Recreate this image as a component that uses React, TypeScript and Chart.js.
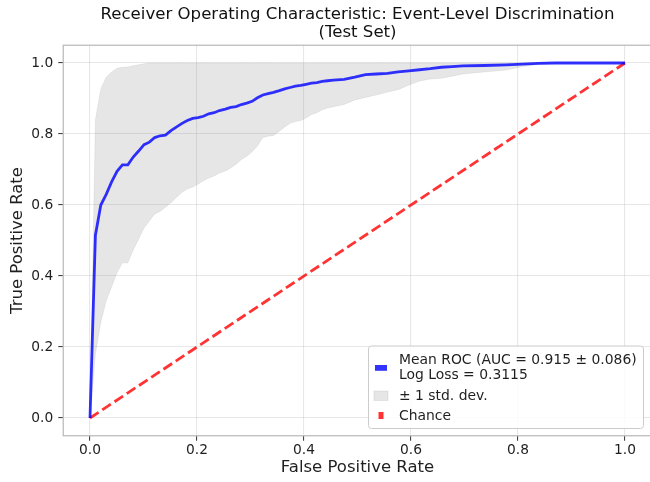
import React, { useEffect, useRef } from "react";
import Chart from "chart.js/auto";

const fpr = [
  0, 0.0101, 0.0202, 0.0303, 0.0404, 0.0505, 0.0606, 0.0707, 0.0808, 0.0909,
  0.101, 0.111, 0.121, 0.131, 0.141, 0.152, 0.162, 0.172, 0.182, 0.192,
  0.202, 0.212, 0.222, 0.232, 0.242, 0.253, 0.263, 0.273, 0.283, 0.293,
  0.303, 0.313, 0.323, 0.333, 0.343, 0.354, 0.364, 0.374, 0.384, 0.394,
  0.404, 0.414, 0.424, 0.434, 0.444, 0.455, 0.475, 0.495, 0.515, 0.535,
  0.556, 0.576, 0.596, 0.616, 0.636, 0.657, 0.677, 0.697, 0.737, 0.778,
  0.808, 0.838, 0.869, 0.899, 1.0,
];

const meanTpr = [
  0, 0.515, 0.6, 0.63, 0.665, 0.695, 0.713, 0.713, 0.735, 0.752,
  0.77, 0.777, 0.79, 0.795, 0.797, 0.81, 0.82, 0.83, 0.838, 0.844,
  0.846, 0.85, 0.857, 0.86, 0.866, 0.87, 0.875, 0.877, 0.883, 0.887,
  0.892, 0.902, 0.91, 0.914, 0.917, 0.922, 0.927, 0.931, 0.935, 0.937,
  0.94, 0.943, 0.945, 0.948, 0.95, 0.952, 0.954, 0.96, 0.967, 0.969,
  0.971, 0.975, 0.978, 0.981, 0.984, 0.988, 0.99, 0.992, 0.993, 0.995,
  0.997, 0.999, 1.0, 1.0, 1.0,
];

const upperTpr = [
  0, 0.84, 0.927, 0.96, 0.975, 0.985, 0.988, 0.989, 0.992, 0.995,
  0.998, 1, 1, 1, 1, 1, 1, 1, 1, 1,
  1, 1, 1, 1, 1, 1, 1, 1, 1, 1,
  1, 1, 1, 1, 1, 1, 1, 1, 1, 1,
  1, 1, 1, 1, 1, 1, 1, 1, 1, 1,
  1, 1, 1, 1, 1, 1, 1, 1, 1, 1,
  1, 1, 1, 1, 1,
];

const lowerTpr = [
  0, 0.18, 0.27, 0.33, 0.37, 0.41, 0.437, 0.437, 0.473, 0.504,
  0.535, 0.555, 0.575, 0.582, 0.594, 0.607, 0.622, 0.636, 0.645, 0.651,
  0.659, 0.668, 0.676, 0.682, 0.69, 0.696, 0.704, 0.715, 0.728, 0.737,
  0.75, 0.766, 0.79, 0.794, 0.796, 0.808, 0.82, 0.83, 0.835, 0.838,
  0.845, 0.855, 0.86, 0.868, 0.873, 0.877, 0.883, 0.896, 0.903, 0.91,
  0.918, 0.925, 0.938, 0.949, 0.955, 0.957, 0.963, 0.969, 0.975, 0.98,
  0.99, 0.996, 0.999, 1.0, 1.0,
];

const chanceX = [0, 1];
const chanceY = [0, 1];

const tickValues = [0, 0.2, 0.4, 0.6, 0.8, 1.0];

const titleLines = [
  "Receiver Operating Characteristic: Event-Level Discrimination",
  "(Test Set)",
];
const xLabel = "False Positive Rate";
const yLabel = "True Positive Rate";
const legendMean = ["Mean ROC (AUC = 0.915 \u00b1 0.086)", "Log Loss = 0.3115"];
const legendStd = "\u00b1 1 std. dev.";
const legendChance = "Chance";

const FONT = '"DejaVu Sans", sans-serif';
const BLUE = "rgba(0,0,255,0.8)";
const RED = "rgba(255,0,0,0.8)";
const GRAYFILL = "rgba(128,128,128,0.2)";
const TEXT = "#1f1f1f";

const CANVAS_W = 700;
const PLOT_RIGHT = 651.75;

export default function App() {
  const ref = useRef<HTMLCanvasElement>(null);

  useEffect(() => {
    if (!ref.current) return;
    const pts = (xs: number[], ys: number[]) => xs.map((x, i) => ({ x, y: ys[i] }));

    const decor = {
      id: "decor",
      afterDraw(chart: any) {
        const { ctx, chartArea: a } = chart;
        ctx.save();
        // frame
        ctx.strokeStyle = "#bdbdbd";
        ctx.lineWidth = 1.3;
        ctx.strokeRect(a.left, a.top, a.right - a.left, a.bottom - a.top);

        // title
        const cx = (a.left + a.right) / 2;
        ctx.fillStyle = "#111";
        ctx.font = `16.6px ${FONT}`;
        ctx.textAlign = "center";
        ctx.textBaseline = "middle";
        ctx.fillText(titleLines[0], cx, 14.5);
        ctx.fillText(titleLines[1], cx, 33);

        // legend
        const lx = 368.5, ly = 346, lw = 275, lh = 82.5, r = 3;
        ctx.beginPath();
        ctx.moveTo(lx + r, ly);
        ctx.lineTo(lx + lw - r, ly);
        ctx.arcTo(lx + lw, ly, lx + lw, ly + r, r);
        ctx.lineTo(lx + lw, ly + lh - r);
        ctx.arcTo(lx + lw, ly + lh, lx + lw - r, ly + lh, r);
        ctx.lineTo(lx + r, ly + lh);
        ctx.arcTo(lx, ly + lh, lx, ly + lh - r, r);
        ctx.lineTo(lx, ly + r);
        ctx.arcTo(lx, ly, lx + r, ly, r);
        ctx.closePath();
        ctx.fillStyle = "rgba(255,255,255,0.85)";
        ctx.fill();
        ctx.strokeStyle = "#cccccc";
        ctx.lineWidth = 1;
        ctx.stroke();

        // handles
        ctx.fillStyle = BLUE;
        ctx.fillRect(375, 365, 12, 5.8);
        ctx.fillStyle = GRAYFILL;
        ctx.fillRect(374, 391, 14, 9.5);
        ctx.strokeStyle = "rgba(128,128,128,0.15)";
        ctx.strokeRect(374, 391, 14, 9.5);
        ctx.fillStyle = RED;
        ctx.fillRect(378.5, 412, 5, 7);

        // texts
        ctx.fillStyle = TEXT;
        ctx.font = `13.9px ${FONT}`;
        ctx.textAlign = "left";
        ctx.textBaseline = "alphabetic";
        ctx.fillText(legendMean[0], 399, 364);
        ctx.fillText(legendMean[1], 399, 378.5);
        ctx.fillText(legendStd, 399, 399.5);
        ctx.fillText(legendChance, 399, 420);
        ctx.restore();
      },
    };

    const setTicks = (scale: any) => {
      scale.ticks = tickValues.map((v) => ({ value: v }));
    };

    const chart = new Chart(ref.current, {
      type: "scatter",
      data: {
        datasets: [
          {
            data: pts(fpr, meanTpr),
            showLine: true,
            borderColor: BLUE,
            borderWidth: 2.8,
            pointRadius: 0,
            fill: false,
          },
          {
            data: pts(chanceX, chanceY),
            showLine: true,
            borderColor: RED,
            borderWidth: 2.8,
            borderDash: [10.3, 4.4],
            pointRadius: 0,
            fill: false,
          },
          {
            data: pts(fpr, upperTpr),
            showLine: true,
            borderColor: "rgba(128,128,128,0.12)",
            borderWidth: 1,
            backgroundColor: GRAYFILL,
            pointRadius: 0,
            fill: "+1",
          },
          {
            data: pts(fpr, lowerTpr),
            showLine: true,
            borderColor: "rgba(128,128,128,0.12)",
            borderWidth: 1,
            pointRadius: 0,
            fill: false,
          },
        ],
      },
      options: {
        animation: false,
        responsive: false,
        devicePixelRatio: 1,
        events: [],
        layout: { padding: { top: 45.25, right: CANVAS_W - PLOT_RIGHT, left: 0, bottom: 0 } },
        plugins: {
          legend: { display: false },
          title: { display: false },
          tooltip: { enabled: false },
          filler: { drawTime: "beforeDatasetsDraw" },
        } as any,
        scales: {
          x: {
            type: "linear",
            min: -0.05,
            max: 1.05,
            afterBuildTicks: setTicks,
            afterFit: (s: any) => {
              s.height = 46.25;
            },
            border: { display: false },
            grid: {
              color: "rgba(176,176,176,0.3)",
              lineWidth: 1.1,
              drawTicks: true,
              tickLength: 5,
              tickColor: "#444",
              tickWidth: 1.1,
            },
            ticks: {
              padding: 1.5,
              color: TEXT,
              font: { family: FONT, size: 13.8 },
              callback: (v: any) => Number(v).toFixed(1),
              maxRotation: 0,
            },
            title: {
              display: true,
              text: xLabel,
              color: TEXT,
              font: { family: FONT, size: 16.5 },
              padding: { top: 0, bottom: 4 },
            },
          },
          y: {
            type: "linear",
            min: -0.05,
            max: 1.05,
            afterBuildTicks: setTicks,
            afterFit: (s: any) => {
              s.width = 63.25;
            },
            border: { display: false },
            grid: {
              color: "rgba(176,176,176,0.3)",
              lineWidth: 1.1,
              drawTicks: true,
              tickLength: 5,
              tickColor: "#444",
              tickWidth: 1.1,
            },
            ticks: {
              padding: 5,
              color: TEXT,
              font: { family: FONT, size: 13.8 },
              callback: (v: any) => Number(v).toFixed(1),
            },
            title: {
              display: true,
              text: yLabel,
              color: TEXT,
              font: { family: FONT, size: 16.5 },
              padding: { top: 8, bottom: 0 },
            },
          },
        },
      },
      plugins: [decor],
    });

    return () => chart.destroy();
  }, []);

  return (
    <div
      style={{
        position: "fixed",
        left: 0,
        top: 0,
        width: 650,
        height: 482,
        overflow: "hidden",
        background: "#fff",
      }}
    >
      <canvas
        ref={ref}
        width={CANVAS_W}
        height={482}
        style={{ display: "block", width: CANVAS_W, height: 482 }}
      />
    </div>
  );
}
